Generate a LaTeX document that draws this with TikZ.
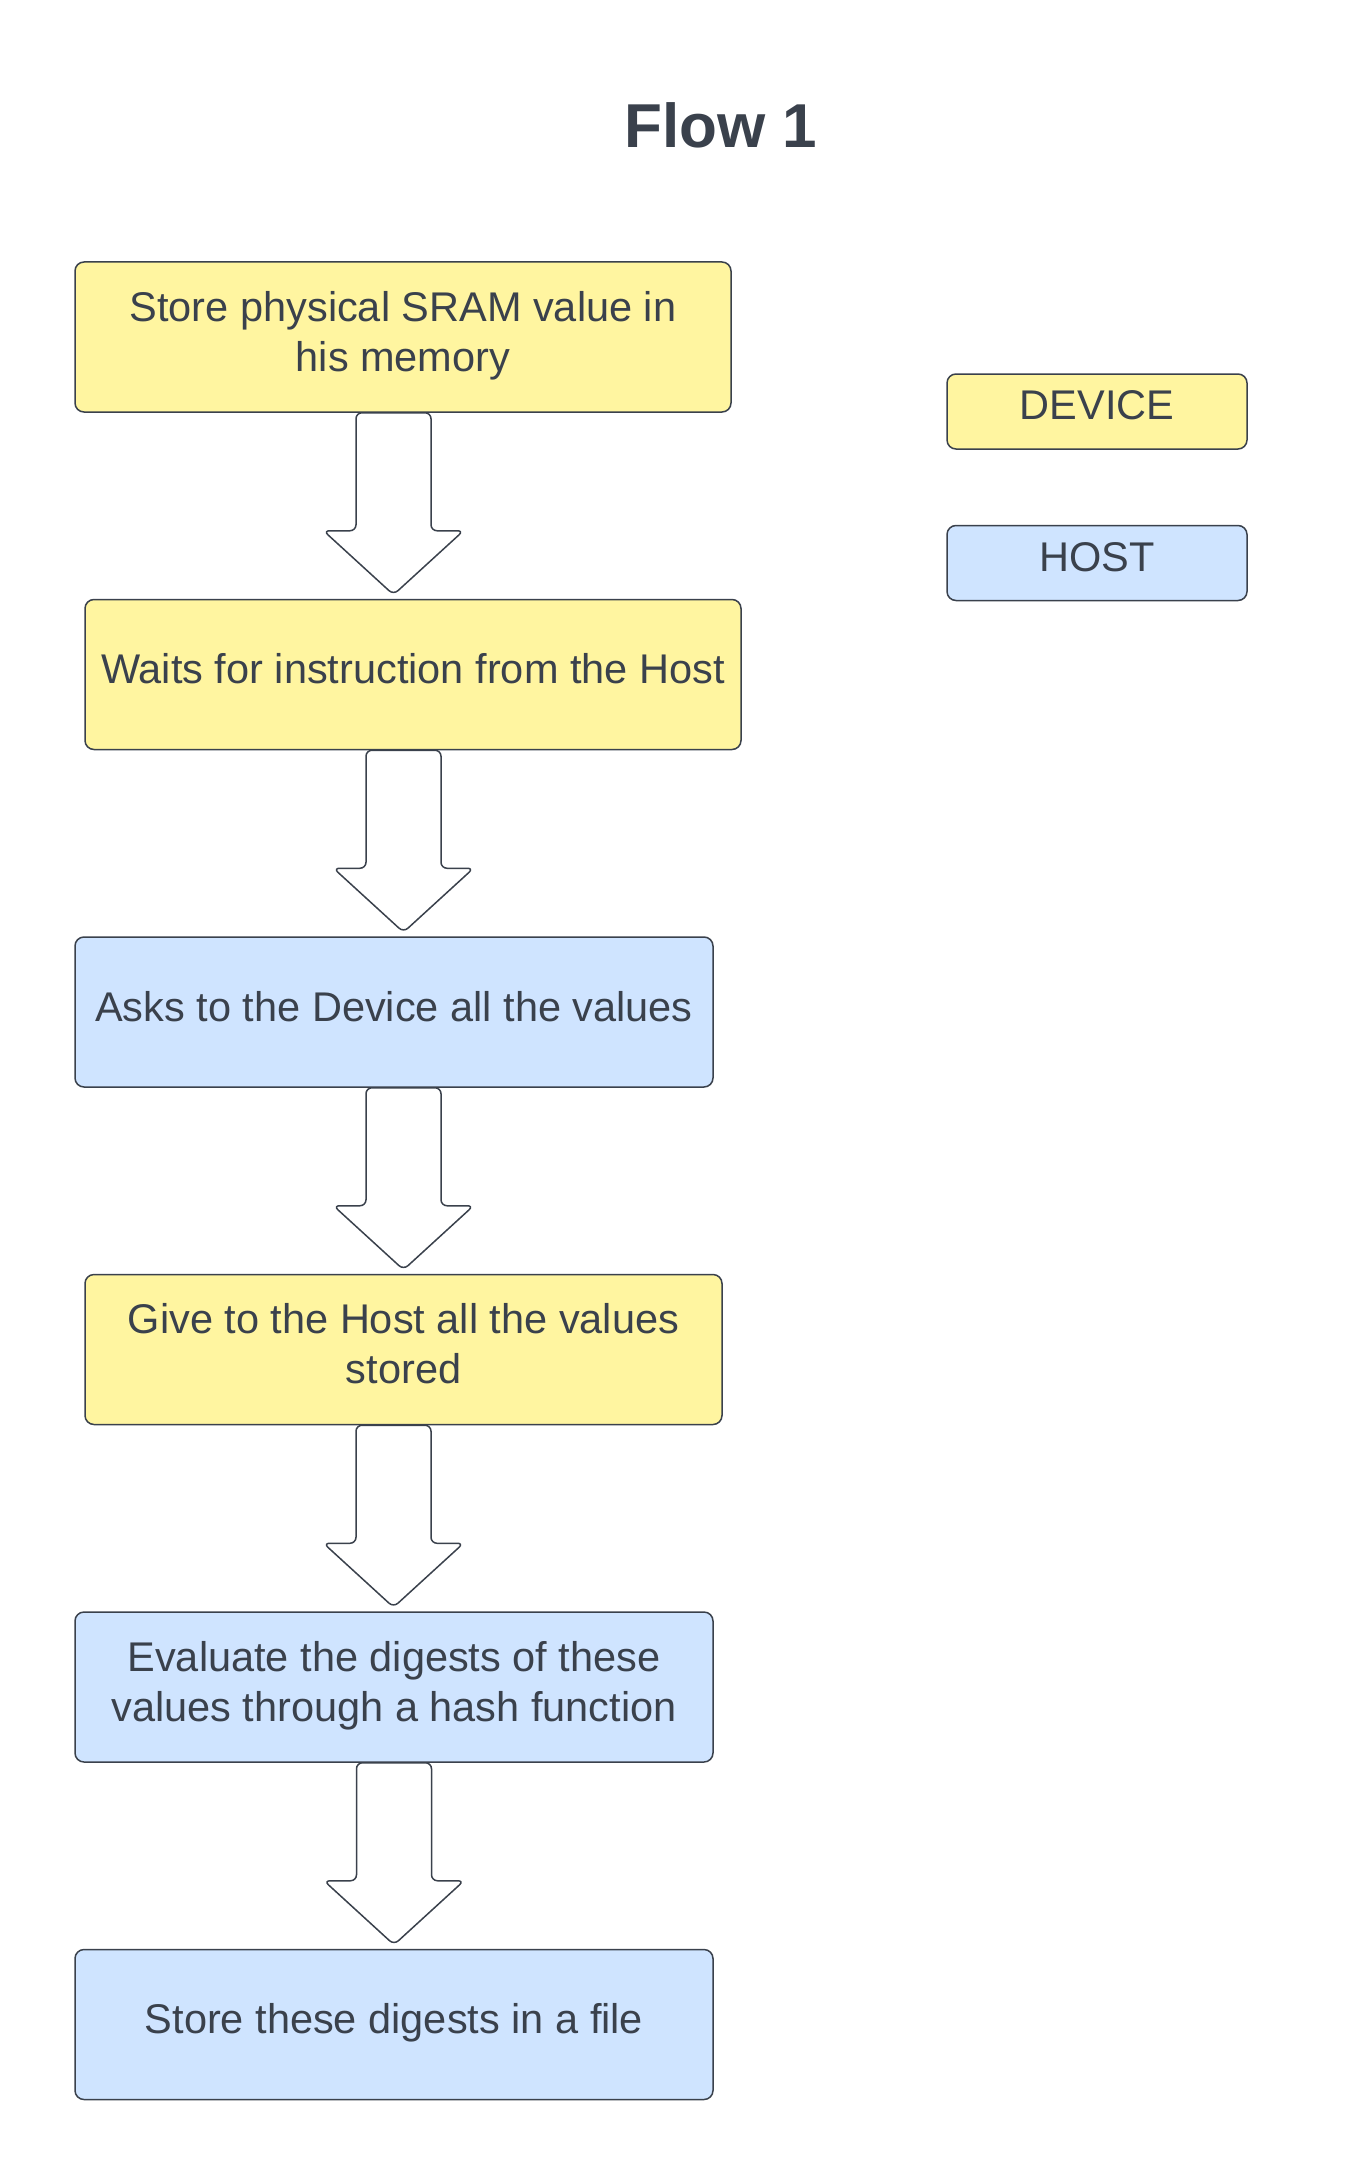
\documentclass[tikz,border=0pt]{standalone}
\usepackage{fontspec}
\setmainfont{Liberation Sans}
\usepackage{xcolor}
\usetikzlibrary{positioning,calc}
\definecolor{devyellow}{HTML}{FFF5A0}
\definecolor{hostblue}{HTML}{CFE4FF}
\definecolor{ink}{HTML}{3A414C}

% hollow block arrow from the bottom of one box to the top of the next
\newcommand\fatarrow[3]{%
  \draw[fat] let \p1=($(#1.south)+(#3,0)$), \p2=(#2.north) in
    (\x1-37.5pt,\y1) -- (\x1-37.5pt,\y2+68pt) -- (\x1-70pt,\y2+68pt)
    -- (\x1,\y2+4pt) -- (\x1+70pt,\y2+68pt) -- (\x1+37.5pt,\y2+68pt)
    -- (\x1+37.5pt,\y1) -- cycle;}

\begin{document}
\begin{tikzpicture}[
  box/.style={draw=ink, line width=1.5pt, rounded corners=9pt, minimum width=656pt, minimum height=150pt, align=center, text=ink, text depth=12pt, font=\fontsize{41.5}{50}\selectfont},
  devbox/.style={box, fill=devyellow},
  hostbox/.style={box, fill=hostblue},
  leg/.style={minimum width=300pt, minimum height=75pt},
  fat/.style={draw=ink, line width=1.5pt, fill=white, rounded corners=6pt}
]
\useasboundingbox (0,0) rectangle (1359pt,-2175pt);

\node[font=\bfseries\fontsize{62}{70}\selectfont, text=ink] (T) at (721pt,-125pt) {Flow 1};

\node[devbox] (A) at (403pt,-337pt) {Store physical SRAM value in\\his memory};
\node[devbox, below=186pt of A, xshift=10pt] (B) {Waits for instruction from the Host};
\node[hostbox, below=186pt of B, xshift=-19pt, minimum width=638pt] (C) {Asks to the Device all the values};
\node[devbox, below=186pt of C, xshift=9.5pt, minimum width=637pt] (D) {Give to the Host all the values\\stored};
\node[hostbox, below=186pt of D, xshift=-9.5pt, minimum width=638pt] (E) {Evaluate the digests of these\\values through a hash function};
\node[hostbox, below=186pt of E, minimum width=638pt] (F) {Store these digests in a file};

\node[devbox, leg] (G) at (1097pt,-411.5pt) {DEVICE};
\node[hostbox, leg, below=75pt of G] (H) {HOST};

\fatarrow{A}{B}{-9.5pt}
\fatarrow{B}{C}{-9.5pt}
\fatarrow{C}{D}{9.5pt}
\fatarrow{D}{E}{-10pt}
\fatarrow{E}{F}{0pt}
\end{tikzpicture}
\end{document}
